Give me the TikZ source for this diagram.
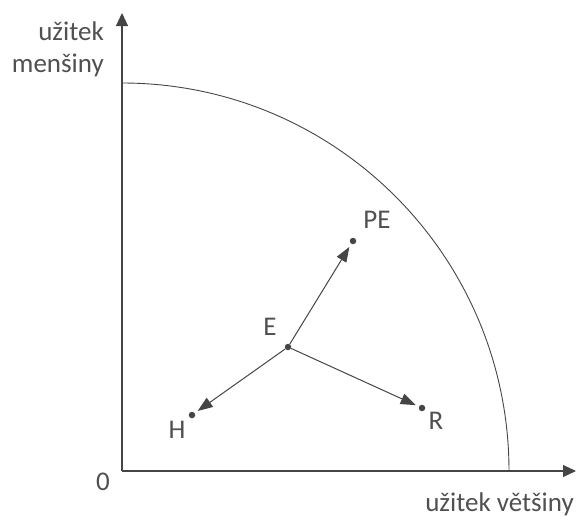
\documentclass[tikz,border=0pt]{standalone}
\usepackage{fontspec}
\setmainfont{Carlito}
\usetikzlibrary{arrows.meta}
\definecolor{ink}{HTML}{454545}
\definecolor{txt}{HTML}{505050}
\begin{document}
\begin{tikzpicture}[x=1pt,y=-1pt,
  axis/.style={draw=ink,line width=1.1pt,-{Triangle[length=13pt,width=12pt]}},
  vec/.style={draw=ink,line width=1pt,-{Triangle[length=15pt,width=11pt]},shorten >=3.5pt},
  dot/.style={circle,fill=ink,inner sep=0pt,minimum size=6.5pt},
  lab/.style={text=txt,font=\fontsize{27}{30}\selectfont,inner sep=0pt}]
\useasboundingbox (0,0) rectangle (576,517);
\coordinate (O) at (122,471);
\coordinate (Ytop) at (122,13);
\coordinate (Xend) at (576,471);
\draw[axis] (O) -- (Ytop);
\draw[axis] (O) -- (Xend);
\draw[ink,line width=0.9pt] (122,83) arc[start angle=90,end angle=0,x radius=387,y radius=-388];
\node[dot] (E) at (288,347) {};
\node[dot] (PE) at (353,241) {};
\node[dot] (H) at (192,415) {};
\node[dot] (R) at (422,408) {};
\draw[vec] (E) -- (PE);
\draw[vec] (E) -- (H);
\draw[vec] (E) -- (R);
\node[lab] (lE) at (270,327) {E};
\node[lab] (lPE) at (377,220) {PE};
\node[lab] (lH) at (177,430) {H};
\node[lab] (lR) at (436,421) {R};
\node[lab] (l0) at (103,482) {0};
\node[lab,anchor=base east] (ly1) at (104,40) {užitek};
\node[lab,anchor=base east] (ly2) at (104,72) {menšiny};
\node[lab,anchor=base east] (lx) at (574,511) {užitek většiny};
\end{tikzpicture}
\end{document}
